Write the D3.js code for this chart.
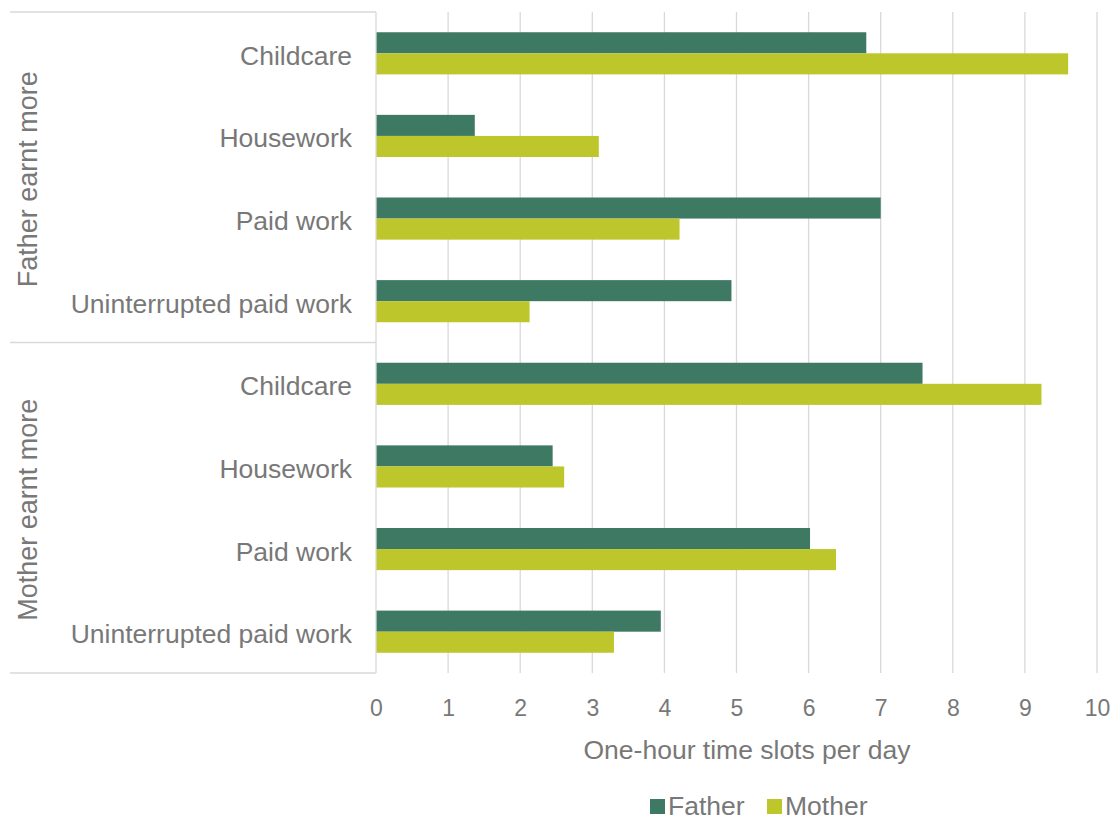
<!DOCTYPE html>
<html><head><meta charset="utf-8">
<script src="https://cdn.jsdelivr.net/npm/d3@7"></script>
<style>body{margin:0;background:#fff;} text{font-family:"Liberation Sans",Arial,sans-serif;fill:#787878;}</style>
</head><body><svg id="c" width="1113" height="818"></svg>
<script>
const groups = ["Father earnt more", "Mother earnt more"];
const categories = ["Childcare", "Housework", "Paid work", "Uninterrupted paid work"];
const series = ["Father", "Mother"];
const fatherValues = [6.80, 1.37, 7.00, 4.93, 7.58, 2.45, 6.02, 3.95];
const motherValues = [9.60, 3.09, 4.21, 2.13, 9.23, 2.61, 6.38, 3.30];
const xTicks = [0,1,2,3,4,5,6,7,8,9,10];
const colors = {Father:"#3E7964", Mother:"#BDC62A"};

(function(){
const svg = d3.select("#c");
const pL = 376, pR = 1097, pT = 12, pB = 673;
const rows = [];
groups.forEach((g,gi)=>categories.forEach((c,ci)=>rows.push({id:gi+"-"+ci, g, c, Father:fatherValues[gi*4+ci], Mother:motherValues[gi*4+ci]})));

const x = d3.scaleLinear().domain([0,10]).range([pL,pR]);
const y = d3.scaleBand().domain(rows.map(r=>r.id)).range([pT,pB]).paddingInner(0.49).paddingOuter(0.245);
const ys = d3.scaleBand().domain(series).range([0,y.bandwidth()]);

svg.append("g").selectAll("line").data(xTicks.slice(1)).join("line")
  .attr("x1",d=>x(d)).attr("x2",d=>x(d)).attr("y1",pT).attr("y2",pB)
  .attr("stroke","#d9d9d9").attr("stroke-width",1.3);

const rg = svg.append("g").selectAll("g").data(rows).join("g").attr("transform",d=>`translate(0,${y(d.id)})`);
rg.selectAll("rect").data(d=>series.map(s=>({s,v:d[s]}))).join("rect")
  .attr("x",x(0)).attr("y",d=>ys(d.s)).attr("height",ys.bandwidth()).attr("width",d=>x(d.v)-x(0))
  .attr("fill",d=>colors[d.s]);

svg.append("line").attr("x1",pL).attr("x2",pL).attr("y1",pT).attr("y2",pB).attr("stroke","#d9d9d9").attr("stroke-width",1.3);
const sepY = [pT, (pT+pB)/2, pB];
svg.append("g").selectAll("line").data(sepY).join("line")
  .attr("x1",10).attr("x2",pL).attr("y1",d=>d).attr("y2",d=>d).attr("stroke","#d9d9d9").attr("stroke-width",1.3);

svg.append("g").selectAll("text").data(rows).join("text")
  .attr("x",352).attr("y",d=>y(d.id)+y.bandwidth()/2+2).attr("dy","0.36em")
  .attr("text-anchor","end").style("font-size","26.5px").text(d=>d.c);

svg.append("g").selectAll("text").data(groups).join("text")
  .attr("transform",(d,i)=>`translate(37,${pT+(pB-pT)/4*(2*i+1)+2}) rotate(-90)`)
  .attr("text-anchor","middle").style("font-size","27px").text(d=>d);

const xa = d3.axisBottom(x).tickValues(xTicks).tickSize(0).tickPadding(0);
const ag = svg.append("g").attr("transform",`translate(0,${pB})`).call(xa);
ag.select(".domain").remove();
ag.selectAll("text").attr("y",43).attr("dy",0).style("font-size","23px").attr("fill",null);

svg.append("text").attr("x",747).attr("y",759).attr("text-anchor","middle")
  .style("font-size","26.5px").text("One-hour time slots per day");

const lg = svg.append("g");
const legX = [650, 767];
series.forEach((s,i)=>{
  lg.append("rect").attr("x",legX[i]).attr("y",799).attr("width",15).attr("height",15).attr("fill",colors[s]);
  lg.append("text").attr("x",legX[i]+18).attr("y",815).style("font-size","26.5px").text(s);
});
})();
</script></body></html>
